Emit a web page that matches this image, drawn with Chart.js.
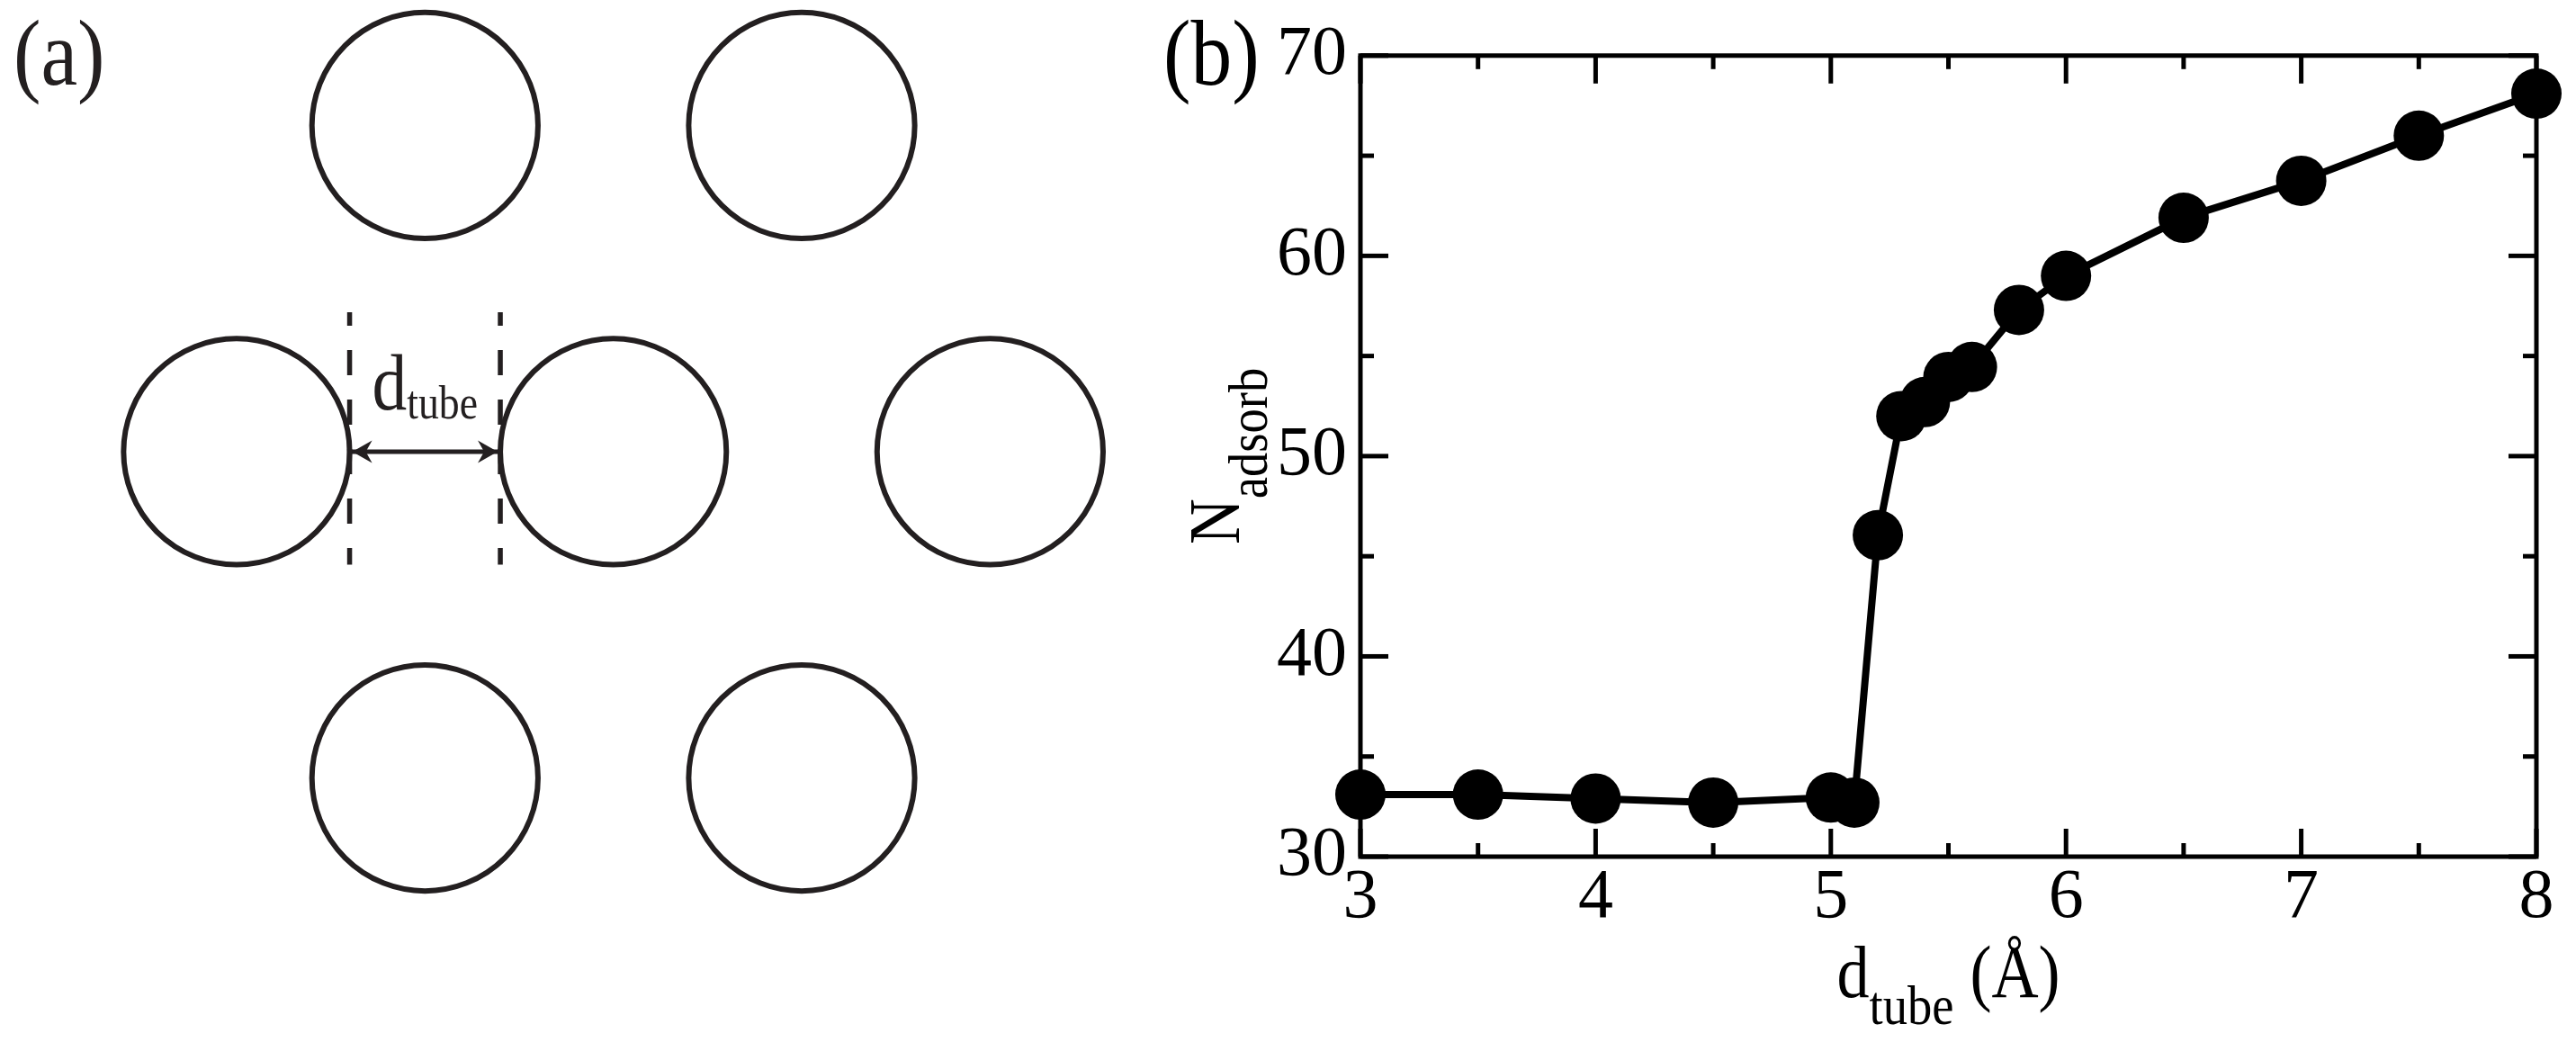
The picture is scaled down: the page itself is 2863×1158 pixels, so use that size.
<!DOCTYPE html>
<html>
<head>
<meta charset="utf-8">
<script src="https://cdn.jsdelivr.net/npm/chart.js@4.4.1/dist/chart.umd.min.js"></script>
<style>
  html, body { margin: 0; padding: 0; background: #ffffff; }
  #wrap { position: relative; width: 2863px; height: 1158px; overflow: hidden; background: #fff; }
  #boxA { position: absolute; left: 0; top: 0; width: 1280px; height: 1158px; }
  #boxB { position: absolute; left: 1280px; top: 0; width: 1583px; height: 1158px; }
</style>
</head>
<body>
<div id="wrap">
  <div id="boxA"><canvas id="ca"></canvas></div>
  <div id="boxB"><canvas id="cb"></canvas></div>
</div>
<script>
// ---------------- data: panel (b) ----------------
const dTube   = [3, 3.5, 4, 4.5, 5, 5.1, 5.2, 5.3, 5.4, 5.5, 5.6, 5.8, 6, 6.5, 7, 7.5, 8];
const nAdsorb = [33.1, 33.1, 32.9, 32.7, 32.95, 32.7, 46.05, 52.0, 52.7, 53.95, 54.45, 57.3, 59.0, 61.9, 63.75, 66.0, 68.1];
const xTicks  = [3, 4, 5, 6, 7, 8];
const yTicks  = [30, 40, 50, 60, 70];

// ---------------- schematic: panel (a), lattice units (tube spacing = 1) ----------------
const tubeX = [-0.5, 0.5, -1, 0, 1, -0.5, 0.5];
const tubeY = [0.866, 0.866, 0, 0, 0, -0.866, -0.866];
const tubeRadius = 0.3;
const guideX = [-0.7, -0.3];
const guideY = [0.37, -0.3];
const arrowY = [0, 0];

const FONT = "'Liberation Serif', 'Times New Roman', serif";
const SX = 0.88;          // narrow serif look of the original
const INK_A = '#231f20';
const INK_B = '#000000';

function drawRich(ctx, parts, x, y, align) {
  let total = 0;
  parts.forEach(p => { ctx.font = p.size + 'px ' + FONT; p.w = ctx.measureText(p.t).width; total += p.w; });
  ctx.save();
  ctx.translate(x, y);
  ctx.scale(SX, 1);
  let cx = align === 'center' ? -total / 2 : 0;
  ctx.textBaseline = 'alphabetic';
  ctx.textAlign = 'left';
  parts.forEach(p => {
    ctx.font = p.size + 'px ' + FONT;
    ctx.fillText(p.t, cx, p.dy || 0);
    cx += p.w;
  });
  ctx.restore();
}

// ---------------- panel (a) ----------------
const arrowHeads = {
  id: 'arrowHeads',
  afterDatasetsDraw(chart) {
    const meta = chart.getDatasetMeta(3);
    const p0 = meta.data[0], p1 = meta.data[1];
    const ctx = chart.ctx;
    const L = 22, H = 12.5, N = 15;
    const head = (tx, ty, dir) => {
      ctx.beginPath();
      ctx.moveTo(tx, ty);
      ctx.lineTo(tx + dir * L, ty - H);
      ctx.lineTo(tx + dir * N, ty);
      ctx.lineTo(tx + dir * L, ty + H);
      ctx.closePath();
      ctx.fill();
    };
    ctx.save();
    ctx.fillStyle = INK_A;
    head(p0.x + 3, p0.y, 1);
    head(p1.x - 3, p1.y, -1);
    drawRich(ctx, [{t: 'd', size: 88}, {t: 'tube', size: 52, dy: 10}], (p0.x + p1.x) / 2, p0.y - 47, 'center');
    drawRich(ctx, [{t: '(a)', size: 104}], 15, 94, 'left');
    ctx.restore();
  }
};

const radiusPx = ctx => {
  const s = ctx.chart.scales.x;
  return Math.abs(s.getPixelForValue(tubeRadius) - s.getPixelForValue(0));
};

new Chart(document.getElementById('ca'), {
  type: 'scatter',
  data: {
    datasets: [
      {
        data: tubeX.map((x, i) => ({x: x, y: tubeY[i]})),
        pointStyle: 'circle',
        pointRadius: radiusPx,
        pointHoverRadius: radiusPx,
        backgroundColor: 'rgba(0,0,0,0)',
        borderColor: INK_A,
        borderWidth: 6,
        pointBorderWidth: 6,
        showLine: false
      },
      {
        data: [{x: guideX[0], y: guideY[0]}, {x: guideX[0], y: guideY[1]}],
        showLine: true, borderColor: INK_A, borderWidth: 5.5,
        borderDash: [28, 27], borderDashOffset: 13, pointRadius: 0
      },
      {
        data: [{x: guideX[1], y: guideY[0]}, {x: guideX[1], y: guideY[1]}],
        showLine: true, borderColor: INK_A, borderWidth: 5.5,
        borderDash: [28, 27], borderDashOffset: 13, pointRadius: 0
      },
      {
        data: [{x: guideX[0], y: arrowY[0]}, {x: guideX[1], y: arrowY[1]}],
        showLine: true, borderColor: INK_A, borderWidth: 5, pointRadius: 0
      }
    ]
  },
  options: {
    responsive: true, maintainAspectRatio: false, animation: false,
    events: [],
    layout: {padding: 0},
    plugins: {legend: {display: false}, tooltip: {enabled: false}},
    scales: {
      x: {type: 'linear', display: false, min: -1.628, max: 1.429},
      y: {type: 'linear', display: false, min: -1.567, max: 1.199}
    }
  },
  plugins: [arrowHeads]
});

// ---------------- panel (b) ----------------
const MAJ = 31, MIN = 15;
const frameTicks = {
  id: 'frameTicks',
  beforeDatasetsDraw(chart) {
    const {ctx, chartArea: a, scales: {x, y}} = chart;
    ctx.save();
    ctx.strokeStyle = INK_B;
    ctx.lineWidth = 5;
    ctx.lineCap = 'butt';
    ctx.strokeRect(a.left, a.top, a.right - a.left, a.bottom - a.top);
    const seg = (x1, y1, x2, y2) => { ctx.beginPath(); ctx.moveTo(x1, y1); ctx.lineTo(x2, y2); ctx.stroke(); };
    const mids = v => v.slice(1).map((t, i) => (t + v[i]) / 2);
    const xv = x.ticks.map(t => t.value), yv = y.ticks.map(t => t.value);
    xv.forEach(v => { const p = x.getPixelForValue(v); seg(p, a.bottom, p, a.bottom - MAJ); seg(p, a.top, p, a.top + MAJ); });
    mids(xv).forEach(v => { const p = x.getPixelForValue(v); seg(p, a.bottom, p, a.bottom - MIN); seg(p, a.top, p, a.top + MIN); });
    yv.forEach(v => { const p = y.getPixelForValue(v); seg(a.left, p, a.left + MAJ, p); seg(a.right, p, a.right - MAJ, p); });
    mids(yv).forEach(v => { const p = y.getPixelForValue(v); seg(a.left, p, a.left + MIN, p); seg(a.right, p, a.right - MIN, p); });
    ctx.restore();
  },
  afterDraw(chart) {
    const {ctx, chartArea: a} = chart;
    ctx.save();
    ctx.fillStyle = INK_B;
    drawRich(ctx, [{t: 'd', size: 82}, {t: 'tube', size: 62, dy: 30}, {t: ' (Å)', size: 82}],
      (a.left + a.right) / 2, 1108, 'center');
    ctx.save();
    ctx.translate(97, (a.top + a.bottom) / 2);
    ctx.rotate(-Math.PI / 2);
    drawRich(ctx, [{t: 'N', size: 80}, {t: 'adsorb', size: 62, dy: 31}], 0, 0, 'center');
    ctx.restore();
    drawRich(ctx, [{t: '(b)', size: 104}], 13, 94, 'left');
    ctx.restore();
  }
};

new Chart(document.getElementById('cb'), {
  type: 'line',
  data: {
    datasets: [{
      data: dTube.map((x, i) => ({x: x, y: nAdsorb[i]})),
      borderColor: INK_B,
      borderWidth: 8,
      pointRadius: 28,
      pointHoverRadius: 28,
      pointBackgroundColor: INK_B,
      pointBorderColor: INK_B,
      pointBorderWidth: 0,
      tension: 0,
      clip: false
    }]
  },
  options: {
    responsive: true, maintainAspectRatio: false, animation: false,
    events: [],
    layout: {padding: {left: 0, top: 49, right: 44, bottom: 0}},
    plugins: {legend: {display: false}, tooltip: {enabled: false}},
    scales: {
      x: {
        type: 'linear', min: 3, max: 8,
        grid: {display: false, drawTicks: false},
        border: {display: false},
        afterBuildTicks: s => { s.ticks = xTicks.map(v => ({value: v})); },
        afterFit: s => { s.height = 206; },
        ticks: {color: INK_B, padding: 0, maxRotation: 0, autoSkip: false,
                font: {family: FONT, size: 78, lineHeight: 1.2}}
      },
      y: {
        type: 'linear', min: 30, max: 70,
        grid: {display: false, drawTicks: false},
        border: {display: false},
        afterBuildTicks: s => { s.ticks = yTicks.map(v => ({value: v})); },
        afterFit: s => { s.width = 232; },
        ticks: {color: INK_B, padding: 15, autoSkip: false,
                font: {family: FONT, size: 78, lineHeight: 1.2}}
      }
    }
  },
  plugins: [frameTicks]
});
</script>
</body>
</html>
